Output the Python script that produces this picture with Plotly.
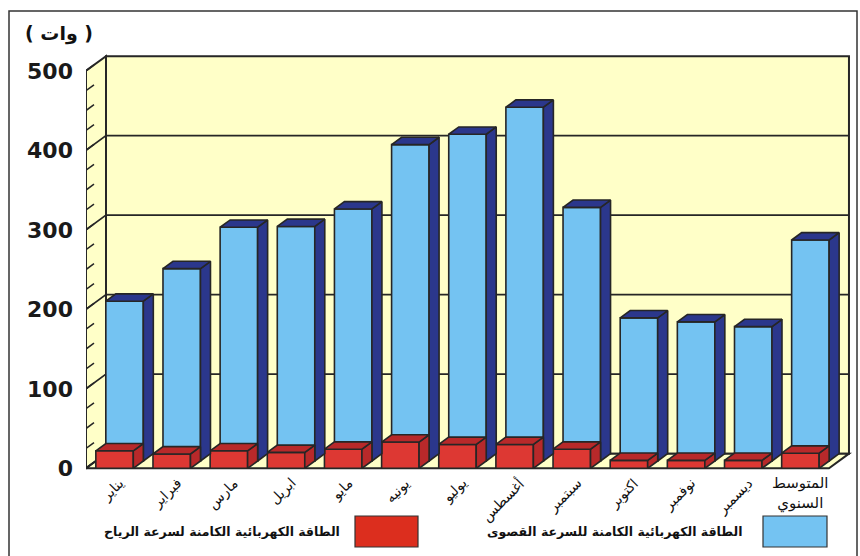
import plotly.graph_objects as go

# ---------------- data ----------------
months = ["يناير", "فبراير", "مارس", "ابريل", "مايو", "يونيه", "يوليو",
          "أغسطس", "سبتمبر", "اكتوبر", "نوفمبر", "ديسمبر", "المتوسط<br>السنوي"]
max_speed_power = [201, 242, 294, 295, 317, 398, 411, 445, 319, 180, 175, 169, 278]
wind_speed_power = [22, 18, 22, 20, 24, 33, 30, 30, 24, 10, 10, 10, 19]
y_ticks = [0, 100, 200, 300, 400, 500]
y_title = "( وات )"
legend_max = "الطاقة الكهربائية الكامنة للسرعة القصوى"
legend_wind = "الطاقة الكهربائية الكامنة لسرعة الرياح"

# ---------------- styling / 3-D projection ----------------
W, H = 860, 556
ML, MR, MT, MB = 86, 8, 46, 80
X_RANGE = [-0.5, 12.903]
Y_RANGE = [-9.69, 531.2]
DX, DY = 0.35, 18.4          # full depth offset (category units, value units)
HX, HY = DX / 2, DY / 2      # one row depth
BAR_W = 0.656
Y_TOP = y_ticks[-1]
n = len(months)

WALL = "#FFFFC8"
EDGE = "#262626"
BLUE = "#74C3F2"
NAVY = "#2B378C"
RED = "#DD3833"
RED_D = "#B8292A"
LEGEND_RED = "#DC2E1E"

fig = go.Figure()

# front faces (bars)
blue_x = [i + HX for i in range(n)]
red_x = list(range(n))
fig.add_trace(go.Bar(x=blue_x, y=max_speed_power, base=[HY] * n, width=BAR_W,
                     marker=dict(color=BLUE, line=dict(color=EDGE, width=1.6)),
                     hoverinfo="skip", showlegend=False))
fig.add_trace(go.Bar(x=red_x, y=wind_speed_power, base=[0] * n, width=BAR_W,
                     marker=dict(color=RED, line=dict(color=EDGE, width=1.6)),
                     hoverinfo="skip", showlegend=False))


def faces(xs, base, vals):
    tx, ty, sx, sy = [], [], [], []
    for xc, v in zip(xs, vals):
        xl, xr = xc - BAR_W / 2, xc + BAR_W / 2
        t = base + v
        tx += [xl, xr, xr + HX, xl + HX, xl, None]
        ty += [t, t, t + HY, t + HY, t, None]
        sx += [xr, xr, xr + HX, xr + HX, xr, None]
        sy += [base, t, t + HY, base + HY, base, None]
    return tx, ty, sx, sy


for xs, base, vals, col in [(blue_x, HY, max_speed_power, NAVY),
                            (red_x, 0, wind_speed_power, RED_D)]:
    tx, ty, sx, sy = faces(xs, base, vals)
    for fx, fy in [(sx, sy), (tx, ty)]:
        fig.add_trace(go.Scatter(x=fx, y=fy, mode="lines", fill="toself",
                                 fillcolor=col, line=dict(color=EDGE, width=1.6),
                                 hoverinfo="skip", showlegend=False))

# depth ticks on the left wall
tk_x, tk_y = [], []
for k in range(0, Y_TOP + 1, 25):
    tk_x += [-0.5, -0.5 + 0.4 * DX, None]
    tk_y += [k, k + 0.4 * DY, None]
fig.add_trace(go.Scatter(x=tk_x, y=tk_y, mode="lines",
                         line=dict(color=EDGE, width=1.5),
                         hoverinfo="skip", showlegend=False))

# walls and floor (below traces)
x0, x1 = -0.5, n - 0.5
shapes = []


def path(pts, close=True):
    s = "M " + " L ".join(f"{a},{b}" for a, b in pts)
    return s + (" Z" if close else "")


wall_line = dict(color=EDGE, width=2)
shapes.append(dict(type="path", xref="x", yref="y", layer="below",
                   path=path([(x0 + DX, DY), (x1 + DX, DY), (x1 + DX, Y_TOP + DY), (x0 + DX, Y_TOP + DY)]),
                   fillcolor=WALL, line=wall_line))
shapes.append(dict(type="path", xref="x", yref="y", layer="below",
                   path=path([(x0, 0), (x0, Y_TOP), (x0 + DX, Y_TOP + DY), (x0 + DX, DY)]),
                   fillcolor=WALL, line=wall_line))
shapes.append(dict(type="path", xref="x", yref="y", layer="below",
                   path=path([(x0, 0), (x1, 0), (x1 + DX, DY), (x0 + DX, DY)]),
                   fillcolor=WALL, line=wall_line))
for v in y_ticks[1:-1]:
    shapes.append(dict(type="path", xref="x", yref="y", layer="below",
                       path=path([(x0, v), (x0 + DX, v + DY), (x1 + DX, v + DY)], close=False),
                       line=dict(color=EDGE, width=1.6)))


def px_x(p):
    return (p - ML) / (W - ML - MR)


def px_y(p):
    return (H - MB - p) / (H - MT - MB)


# outer frame
shapes.append(dict(type="rect", xref="paper", yref="paper", layer="below",
                   x0=px_x(9), x1=px_x(857), y0=px_y(575), y1=px_y(11),
                   line=dict(color="#333333", width=1.5)))
# legend swatches
shapes.append(dict(type="rect", xref="paper", yref="paper",
                   x0=px_x(763), x1=px_x(827), y0=px_y(547), y1=px_y(516),
                   fillcolor=BLUE, line=dict(color="#333333", width=1.2)))
shapes.append(dict(type="rect", xref="paper", yref="paper",
                   x0=px_x(355), x1=px_x(418), y0=px_y(547), y1=px_y(516),
                   fillcolor=LEGEND_RED, line=dict(color="#333333", width=1.2)))

annotations = []
for i, m in enumerate(months[:-1]):
    annotations.append(dict(x=i + 0.28, y=px_y(472), xref="x", yref="paper",
                            text=m, showarrow=False, textangle=-45,
                            xanchor="right", yanchor="top",
                            font=dict(family="DejaVu Sans", size=14, color="#111111")))
annotations.append(dict(x=n - 1, y=px_y(472), xref="x", yref="paper",
                        text=months[-1], showarrow=False, xanchor="center", yanchor="top",
                        align="center",
                        font=dict(family="DejaVu Sans", size=15, color="#111111")))
annotations.append(dict(x=px_x(59), y=px_y(33), xref="paper", yref="paper",
                        text=y_title, showarrow=False, xanchor="center", yanchor="middle",
                        font=dict(family="DejaVu Sans", size=19, color="#111111", weight="bold")))
annotations.append(dict(x=px_x(744), y=px_y(531), xref="paper", yref="paper",
                        text=legend_max, showarrow=False, xanchor="right", yanchor="middle",
                        font=dict(family="DejaVu Sans", size=12.5, color="#111111", weight="bold")))
annotations.append(dict(x=px_x(342), y=px_y(531), xref="paper", yref="paper",
                        text=legend_wind, showarrow=False, xanchor="right", yanchor="middle",
                        font=dict(family="DejaVu Sans", size=12.5, color="#111111", weight="bold")))

fig.update_layout(
    width=W, height=H,
    margin=dict(l=ML, r=MR, t=MT, b=MB, pad=0),
    paper_bgcolor="white", plot_bgcolor="rgba(0,0,0,0)",
    barmode="overlay", showlegend=False,
    shapes=shapes, annotations=annotations,
    xaxis=dict(range=X_RANGE, showgrid=False, zeroline=False, showline=False,
               showticklabels=False, ticks="", fixedrange=True),
    yaxis=dict(range=Y_RANGE, showgrid=False, zeroline=False, showline=False,
               tickvals=y_ticks, ticktext=[str(v) for v in y_ticks], ticks="",
               ticklabelstandoff=12,
               tickfont=dict(family="DejaVu Sans", size=22, color="#1a1a1a", weight="bold"),
               fixedrange=True),
)

fig.write_html("out.html")
